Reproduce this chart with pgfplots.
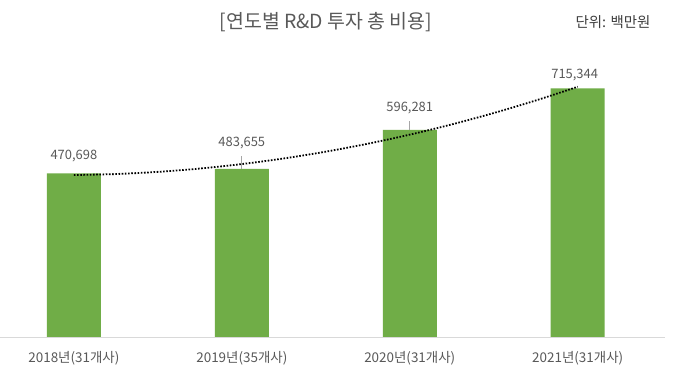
\documentclass[border=0pt]{standalone}
\usepackage{pgfplots}
\pgfplotsset{compat=1.18}
\usepackage{fontspec}
\setmainfont{Noto Sans CJK KR}
\definecolor{bargreen}{HTML}{70AD47}
\definecolor{txt}{HTML}{595959}
\definecolor{dtxt}{HTML}{404040}
\definecolor{axisgray}{HTML}{D9D9D9}
\begin{document}
\begin{tikzpicture}
\useasboundingbox (0,0) rectangle (680bp,379bp);
\fill[white] (0,0) rectangle (680bp,379bp);
\begin{axis}[
  at={(0bp,42bp)}, anchor=south west,
  scale only axis, width=665bp, height=278bp,
  xmin=-0.44, xmax=3.52, ymin=0, ymax=800000,
  axis x line*=bottom, axis y line=none,
  x axis line style={draw=axisgray, line width=1pt, -},
  xtick={0,1,2,3},
  xticklabels={2018년(31개사),2019년(35개사),2020년(31개사),2021년(31개사)},
  xtick style={draw=none},
  xticklabel style={font=\fontsize{13.5}{15}\selectfont, text=txt, yshift=-11bp},
  clip=false,
]
\addplot[ybar, bar width=54bp, fill=bargreen, draw=none] coordinates {(0,470698) (1,483655) (2,596281) (3,715344)};
\addplot[smooth, black, line width=1.8pt, dash pattern=on 1.6pt off 1.6pt] coordinates {
(0,466036) (0.25,468964) (0.5,475207) (0.75,484765) (1,497640) (1.25,513830) (1.5,533336) (1.75,556158) (2,582296) (2.25,611750) (2.5,644519) (2.75,680605) (3,720006)};
\draw[gray!70, line width=0.8pt] (axis cs:1,483655) -- ([yshift=13bp]axis cs:1,483655);
\draw[gray!70, line width=0.8pt] (axis cs:2,596281) -- ([yshift=9bp]axis cs:2,596281);
\node[font=\fontsize{13}{15}\selectfont, text=txt, yshift=17bp] at (axis cs:0,470698) {470,698};
\node[font=\fontsize{13}{15}\selectfont, text=txt, yshift=25.5bp] at (axis cs:1,483655) {483,655};
\node[font=\fontsize{13}{15}\selectfont, text=txt, yshift=22bp] at (axis cs:2,596281) {596,281};
\node[font=\fontsize{13}{15}\selectfont, text=txt, xshift=-3bp, yshift=13bp] at (axis cs:3,715344) {715,344};
\end{axis}
\node[font=\fontsize{19.5}{22}\selectfont, text=txt] at (326bp,357bp) {[연도별 R\&D 투자 총 비용]};
\node[font=\fontsize{14.5}{16}\selectfont, text=dtxt] at (613bp,357bp) {단위: 백만원};
\end{tikzpicture}
\end{document}
